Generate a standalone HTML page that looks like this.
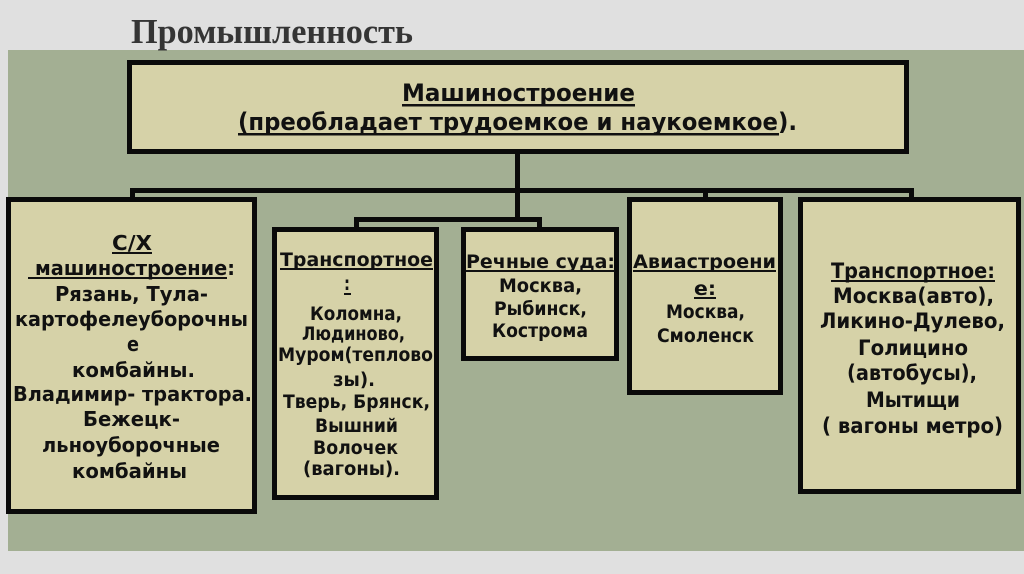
<!DOCTYPE html>
<html><head><meta charset="utf-8"><style>
html,body{margin:0;padding:0;background:#e0e0e0;}
svg{display:block;}
.t{font-family:"DejaVu Sans","Liberation Sans",sans-serif;font-weight:bold;fill:#111;}
</style></head><body>
<svg width="1024" height="574" viewBox="0 0 1024 574" xmlns="http://www.w3.org/2000/svg">
<rect x="0" y="0" width="1024" height="574" fill="#e0e0e0"/>
<rect x="8" y="50" width="1016" height="501" fill="#a3af93"/>
<text x="131" y="43" textLength="282" lengthAdjust="spacingAndGlyphs" font-family="'Liberation Serif',serif" font-weight="bold" font-size="35" fill="#353535">Промышленность</text>

<!-- connectors -->
<g fill="#0a0a0a">
<rect x="515" y="152" width="5" height="70"/>
<rect x="130" y="188" width="784" height="5"/>
<rect x="130" y="188" width="5" height="11"/>
<rect x="909" y="188" width="5" height="11"/>
<rect x="703" y="188" width="5" height="11"/>
<rect x="354" y="217" width="188" height="5"/>
<rect x="354" y="217" width="5" height="12"/>
<rect x="537" y="217" width="5" height="12"/>
</g>

<!-- boxes -->
<g fill="#d6d2a8" stroke="#0a0a0a" stroke-width="5">
<rect x="129.5" y="62.5" width="777" height="89"/>
<rect x="8.5" y="199.5" width="246" height="312"/>
<rect x="274.5" y="229.5" width="162" height="268"/>
<rect x="463.5" y="229.5" width="153" height="129"/>
<rect x="629.5" y="199.5" width="151" height="193"/>
<rect x="800.5" y="199.5" width="218" height="292"/>
</g>

<!-- top box text -->
<text class="t" x="402" y="101" font-size="24" textLength="233" lengthAdjust="spacingAndGlyphs">Машиностроение</text>
<text class="t" x="238" y="130" font-size="24" textLength="559" lengthAdjust="spacingAndGlyphs">(преобладает трудоемкое и наукоемкое).</text>

<!-- box1 -->
<g class="t" font-size="20">
<text x="112" y="250" textLength="40" lengthAdjust="spacingAndGlyphs">С/Х</text>
<text x="35" y="275" textLength="200" lengthAdjust="spacingAndGlyphs">машиностроение:</text>
<text x="55" y="301" textLength="153" lengthAdjust="spacingAndGlyphs">Рязань, Тула-</text>
<text x="15" y="326" textLength="233" lengthAdjust="spacingAndGlyphs">картофелеуборочны</text>
<text x="127" y="351" textLength="12" lengthAdjust="spacingAndGlyphs">е</text>
<text x="72" y="377" textLength="123" lengthAdjust="spacingAndGlyphs">комбайны.</text>
<text x="13" y="401" textLength="239" lengthAdjust="spacingAndGlyphs">Владимир- трактора.</text>
<text x="83" y="426" textLength="97" lengthAdjust="spacingAndGlyphs">Бежецк-</text>
<text x="42" y="452" textLength="178" lengthAdjust="spacingAndGlyphs">льноуборочные</text>
<text x="72" y="478" textLength="115" lengthAdjust="spacingAndGlyphs">комбайны</text>
</g>

<!-- box2 -->
<g class="t" font-size="18.5">
<text x="280" y="266" textLength="153" lengthAdjust="spacingAndGlyphs">Транспортное</text>
<text x="344" y="290" textLength="6" lengthAdjust="spacingAndGlyphs">:</text>
<text x="310" y="320" textLength="92" lengthAdjust="spacingAndGlyphs">Коломна,</text>
<text x="302" y="340" textLength="103" lengthAdjust="spacingAndGlyphs">Людиново,</text>
<text x="278" y="361" textLength="155" lengthAdjust="spacingAndGlyphs">Муром(теплово</text>
<text x="333" y="386" textLength="42" lengthAdjust="spacingAndGlyphs">зы).</text>
<text x="283" y="408" textLength="147" lengthAdjust="spacingAndGlyphs">Тверь, Брянск,</text>
<text x="315" y="432" textLength="83" lengthAdjust="spacingAndGlyphs">Вышний</text>
<text x="313" y="454" textLength="85" lengthAdjust="spacingAndGlyphs">Волочек</text>
<text x="303" y="475" textLength="97" lengthAdjust="spacingAndGlyphs">(вагоны).</text>
</g>

<!-- box3 -->
<g class="t" font-size="18.5">
<text x="466" y="268" textLength="149" lengthAdjust="spacingAndGlyphs">Речные суда:</text>
<text x="499" y="292" textLength="83" lengthAdjust="spacingAndGlyphs">Москва,</text>
<text x="494" y="315" textLength="93" lengthAdjust="spacingAndGlyphs">Рыбинск,</text>
<text x="492" y="337" textLength="96" lengthAdjust="spacingAndGlyphs">Кострома</text>
</g>

<!-- box4 -->
<g class="t" font-size="19">
<text x="633" y="268" textLength="143" lengthAdjust="spacingAndGlyphs">Авиастроени</text>
<text x="694" y="295" textLength="22" lengthAdjust="spacingAndGlyphs">е:</text>
<text x="666" y="318" textLength="79" lengthAdjust="spacingAndGlyphs">Москва,</text>
<text x="657" y="342" textLength="97" lengthAdjust="spacingAndGlyphs">Смоленск</text>
</g>

<!-- box5 -->
<g class="t" font-size="21">
<text x="831" y="278" textLength="164" lengthAdjust="spacingAndGlyphs">Транспортное:</text>
<text x="833" y="303" textLength="161" lengthAdjust="spacingAndGlyphs">Москва(авто),</text>
<text x="820" y="328" textLength="185" lengthAdjust="spacingAndGlyphs">Ликино-Дулево,</text>
<text x="858" y="355" textLength="110" lengthAdjust="spacingAndGlyphs">Голицино</text>
<text x="847" y="380" textLength="130" lengthAdjust="spacingAndGlyphs">(автобусы),</text>
<text x="866" y="407" textLength="94" lengthAdjust="spacingAndGlyphs">Мытищи</text>
<text x="822" y="433" textLength="181" lengthAdjust="spacingAndGlyphs">( вагоны метро)</text>
</g>

<!-- underlines -->
<g fill="#111">
<rect x="402" y="104" width="233" height="2.5"/>
<rect x="238" y="133" width="541" height="2.5"/>
<rect x="112" y="252" width="40" height="2"/>
<rect x="28" y="277" width="199" height="2"/>
<rect x="280" y="268" width="153" height="2"/>
<rect x="344" y="293" width="7" height="2"/>
<rect x="466" y="270" width="149" height="2"/>
<rect x="633" y="270" width="143" height="2"/>
<rect x="694" y="297" width="22" height="2"/>
<rect x="831" y="280" width="164" height="2"/>
</g>
</svg>
</body></html>
